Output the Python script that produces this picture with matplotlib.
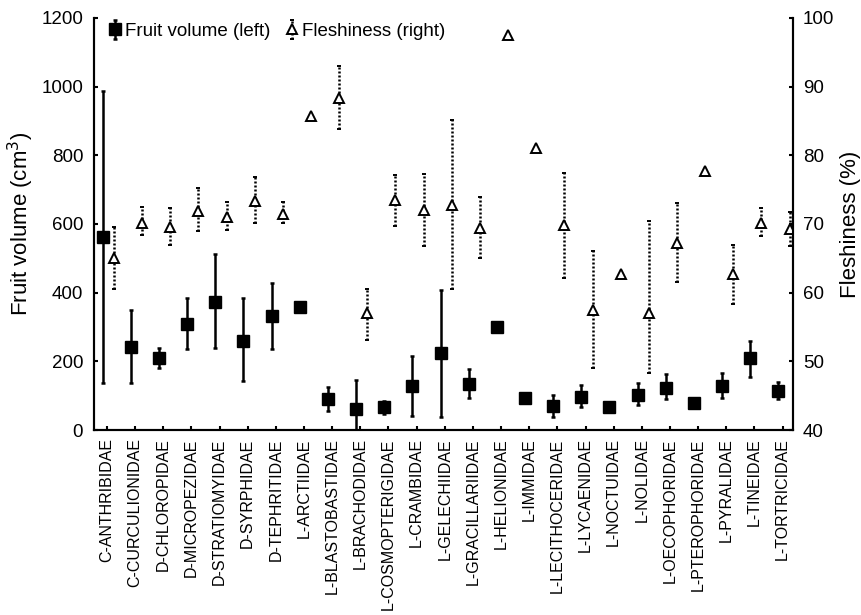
import numpy as np
import matplotlib
matplotlib.use("Agg")
import matplotlib.pyplot as plt

plt.rcParams['font.family'] = ['Liberation Sans', 'DejaVu Sans']

categories = ["C-ANTHRIBIDAE", "C-CURCULIONIDAE", "D-CHLOROPIDAE", "D-MICROPEZIDAE",
              "D-STRATIOMYIDAE", "D-SYRPHIDAE", "D-TEPHRITIDAE", "L-ARCTIIDAE",
              "L-BLASTOBASTIDAE", "L-BRACHODIDAE", "L-COSMOPTERIGIDAE", "L-CRAMBIDAE",
              "L-GELECHIIDAE", "L-GRACILLARIIDAE", "L-HELIONIDAE", "L-IMMIDAE",
              "L-LECITHOCERIDAE", "L-LYCAENIDAE", "L-NOCTUIDAE", "L-NOLIDAE",
              "L-OECOPHORIDAE", "L-PTEROPHORIDAE", "L-PYRALIDAE", "L-TINEIDAE",
              "L-TORTRICIDAE"]

nan = np.nan
volume = [561, 243, 209, 309, 374, 260, 333, 359, 90, 61, 66, 128, 223, 133, 301, 94,
          70, 97, 66, 102, 123, 78, 128, 211, 114]
volume_lo = [138, 138, 181, 235, 238, 144, 235, nan, 56, 0, 46, 41, 39, 92, nan, nan,
             37, 66, nan, 73, 90, nan, 94, 155, 89]
volume_hi = [988, 350, 240, 385, 513, 384, 429, nan, 126, 146, 84, 216, 408, 177, nan, nan,
             102, 131, nan, 136, 162, nan, 165, 260, 141]

flesh = [65.1, 70.2, 69.6, 71.9, 71.0, 73.3, 71.4, 85.7, 88.4, 57.0, 73.5, 72.1, 72.8, 69.4,
         97.5, 81.0, 69.8, 57.5, 62.7, 57.0, 67.3, 77.7, 62.7, 70.2, 69.2]
flesh_lo = [60.6, 68.4, 66.9, 69.0, 69.1, 70.1, 70.1, nan, 83.8, 53.1, 69.7, 66.8, 60.6, 65.1,
            nan, nan, 62.2, 49.1, nan, 48.3, 61.6, nan, 58.3, 68.3, 66.8]
flesh_hi = [69.6, 72.5, 72.3, 75.2, 73.2, 76.9, 73.2, nan, 93.0, 60.5, 77.2, 77.3, 85.1, 74.0,
            nan, nan, 77.4, 66.0, nan, 70.4, 73.1, nan, 66.9, 72.4, 71.8]

x = np.arange(len(categories))
v = np.array(volume, float)
f = np.array(flesh, float)
verr = np.vstack([v - np.array(volume_lo, float), np.array(volume_hi, float) - v])
ferr = np.vstack([f - np.array(flesh_lo, float), np.array(flesh_hi, float) - f])

fig = plt.figure(figsize=(8.61, 6.15), dpi=100)
ax = fig.add_axes([0.1095, 0.3008, 0.8115, 0.67])
ax2 = ax.twinx()

eb1 = ax.errorbar(x - 0.15, v, yerr=verr, fmt='s', color='black', ms=8,
                  elinewidth=1.8, capsize=1.5, capthick=1.8, label='Fruit volume (left)')
eb2 = ax2.errorbar(x + 0.25, f, yerr=ferr, fmt='^', color='black', mfc='white', mec='black',
                   ms=6.5, mew=1.4, elinewidth=1.8, capsize=1.2, capthick=1.5,
                   label='Fleshiness (right)')
for lc in eb2[2]:
    lc.set_linestyle((0, (0.8, 0.8)))

ax.set_xlim(-0.45, 24.37)
ax.set_ylim(0, 1200)
ax2.set_ylim(40, 100)
ax.set_yticks(np.arange(0, 1201, 200))
ax2.set_yticks(np.arange(40, 101, 10))
ax.set_xticks(x)
ax.set_xticklabels(categories, rotation=90, fontsize=11.5)

for a in (ax, ax2):
    a.spines['top'].set_visible(False)
    a.spines['left'].set_linewidth(1.5)
    a.spines['right'].set_linewidth(1.5)
    a.spines['bottom'].set_linewidth(1.5)
ax.tick_params(axis='y', direction='in', length=3, width=1.5, labelsize=13.5, pad=8)
ax2.tick_params(axis='y', direction='in', length=3, width=1.5, labelsize=13.5, pad=7)
ax.tick_params(axis='x', direction='in', length=3, width=1.5, pad=6)

ax.set_ylabel('Fruit volume (cm$^3$)', fontsize=16, labelpad=3.5)
ax2.set_ylabel('Fleshiness (%)', fontsize=16, labelpad=4)

h1, l1 = ax.get_legend_handles_labels()
h2, l2 = ax2.get_legend_handles_labels()
ax.legend(h1 + h2, l1 + l2, loc='center left', ncol=2, frameon=False, fontsize=13.5,
          handlelength=0.55, handletextpad=0.25, columnspacing=0.9,
          bbox_to_anchor=(0.022, 0.968), borderpad=0, borderaxespad=0)

fig.savefig('out.png', dpi=100)
